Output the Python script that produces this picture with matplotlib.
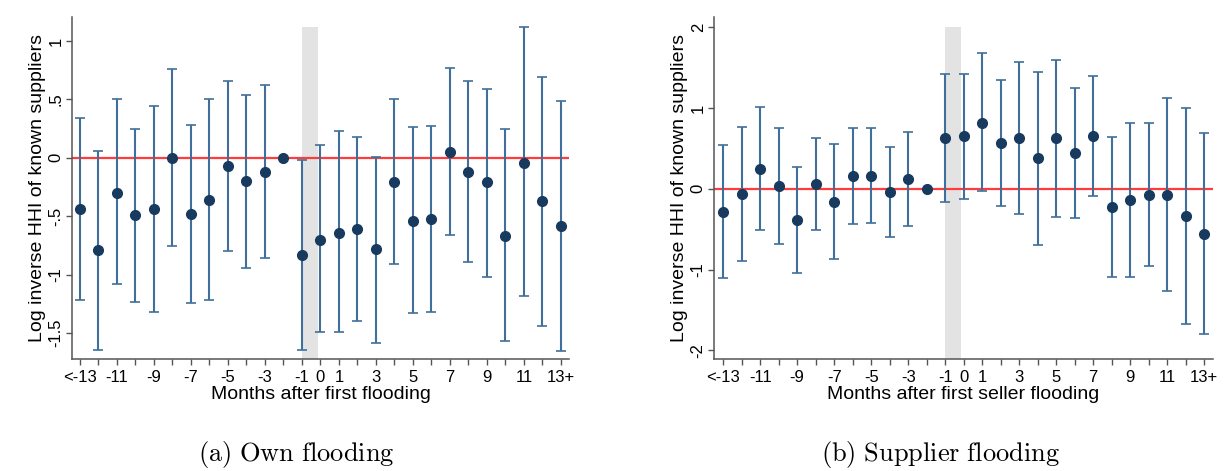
import numpy as np
import matplotlib.pyplot as plt

plt.rcParams['font.family'] = ['Liberation Sans', 'DejaVu Sans']
plt.rcParams['mathtext.fontset'] = 'cm'

# event-time categories (same for both panels)
months = ['<-13', '-12', '-11', '-10', '-9', '-8', '-7', '-6', '-5', '-4', '-3', '-2', '-1',
          '0', '1', '2', '3', '4', '5', '6', '7', '8', '9', '10', '11', '12', '13+']
shown_labels = ['<-13', '-11', '-9', '-7', '-5', '-3', '-1', '0', '1', '3', '5', '7', '9', '11', '13+']

# (a) own flooding
own_coef = [-0.44, -0.79, -0.30, -0.49, -0.44, 0.00, -0.48, -0.36, -0.07, -0.20, -0.12, 0.00, -0.83,
            -0.70, -0.64, -0.61, -0.78, -0.21, -0.54, -0.52, 0.05, -0.12, -0.21, -0.67, -0.04, -0.37, -0.58]
own_hi = [0.34, 0.06, 0.50, 0.25, 0.44, 0.76, 0.28, 0.50, 0.66, 0.54, 0.62, 0.00, -0.02,
          0.11, 0.23, 0.18, 0.01, 0.50, 0.26, 0.27, 0.77, 0.66, 0.59, 0.245, 1.12, 0.695, 0.49]
own_lo = [-1.22, -1.64, -1.08, -1.23, -1.32, -0.75, -1.245, -1.22, -0.80, -0.94, -0.86, 0.00, -1.64,
          -1.49, -1.49, -1.40, -1.58, -0.91, -1.33, -1.32, -0.66, -0.89, -1.02, -1.57, -1.18, -1.44, -1.65]

# (b) supplier flooding
sup_coef = [-0.285, -0.06, 0.25, 0.04, -0.39, 0.06, -0.16, 0.16, 0.165, -0.045, 0.125, 0.00, 0.63,
            0.65, 0.82, 0.57, 0.63, 0.38, 0.63, 0.44, 0.65, -0.23, -0.14, -0.07, -0.075, -0.34, -0.56]
sup_hi = [0.545, 0.77, 1.01, 0.75, 0.27, 0.63, 0.56, 0.76, 0.76, 0.52, 0.70, 0.00, 1.42,
          1.42, 1.68, 1.35, 1.57, 1.45, 1.60, 1.25, 1.40, 0.645, 0.82, 0.82, 1.12, 1.00, 0.69]
sup_lo = [-1.10, -0.89, -0.51, -0.68, -1.045, -0.51, -0.87, -0.43, -0.42, -0.60, -0.46, 0.00, -0.16,
          -0.13, -0.03, -0.215, -0.31, -0.69, -0.35, -0.36, -0.09, -1.095, -1.095, -0.96, -1.27, -1.68, -1.80]

own_yticks = [1, 0.5, 0, -0.5, -1, -1.5]
own_yticklabels = ['1', '.5', '0', '-.5', '-1', '-1.5']
sup_yticks = [2, 1, 0, -1, -2]
sup_yticklabels = ['2', '1', '0', '-1', '-2']


def event_panel(ax, coef, lo, hi, xlabel, yticks, yticklabels, ylim, xlim):
    x = np.arange(len(months))
    coef = np.asarray(coef)
    lo = np.asarray(lo)
    hi = np.asarray(hi)
    ref = months.index('-2')
    keep = x != ref

    # shaded flooding month, a bit short of the top like the original
    ax.axvspan(months.index('-1') - 0.02, months.index('-1') + 0.88, ymax=0.97, color='#dcdcdc',
               alpha=0.8, lw=0, zorder=0)
    ax.axhline(0, color='#ff3b3b', lw=1.6, zorder=1)
    ax.errorbar(x[keep], coef[keep], yerr=[coef[keep] - lo[keep], hi[keep] - coef[keep]],
                fmt='none', ecolor='#3f6f9a', elinewidth=1.5, capsize=3.5, capthick=1.2, zorder=2)
    ax.plot(x, coef, 'o', color='#173a5e', ms=7, zorder=3)

    ax.set_xlim(*xlim)
    ax.set_ylim(*ylim)
    ax.set_xticks(x, minor=True)
    major = [months.index(m) for m in shown_labels]
    ax.set_xticks(major)
    ax.set_xticklabels(shown_labels, fontsize=12)
    ax.set_yticks(yticks)
    ax.set_yticklabels(yticklabels, rotation=90, va='center', fontsize=12)
    ax.tick_params(which='both', direction='out', length=4, width=1, color='#555555', pad=4)
    ax.tick_params(axis='y', pad=2)
    for side in ['top', 'right']:
        ax.spines[side].set_visible(False)
    for side in ['left', 'bottom']:
        ax.spines[side].set_color('#555555')
        ax.spines[side].set_linewidth(1.1)
    ax.set_xlabel(xlabel, fontsize=14, labelpad=1)
    ax.set_ylabel('Log inverse HHI of known suppliers', fontsize=14, labelpad=2)


fig = plt.figure(figsize=(12.24, 4.71), dpi=100)
ax1 = fig.add_axes([0.0588, 0.238, 0.406, 0.726])
ax2 = fig.add_axes([0.5833, 0.238, 0.4075, 0.726])

event_panel(ax1, own_coef, own_lo, own_hi, 'Months after first flooding',
            own_yticks, own_yticklabels, (-1.72, 1.205), (-0.43, 26.43))
event_panel(ax2, sup_coef, sup_lo, sup_hi, 'Months after first seller flooding',
            sup_yticks, sup_yticklabels, (-2.107, 2.13), (-0.5, 26.47))

fig.text(0.242, 0.034, r'$\mathrm{(a)\ Own\ flooding}$', ha='center', va='center', fontsize=19)
fig.text(0.768, 0.034, r'$\mathrm{(b)\ Supplier\ flooding}$', ha='center', va='center', fontsize=19)

fig.savefig('out.png', dpi=100)
